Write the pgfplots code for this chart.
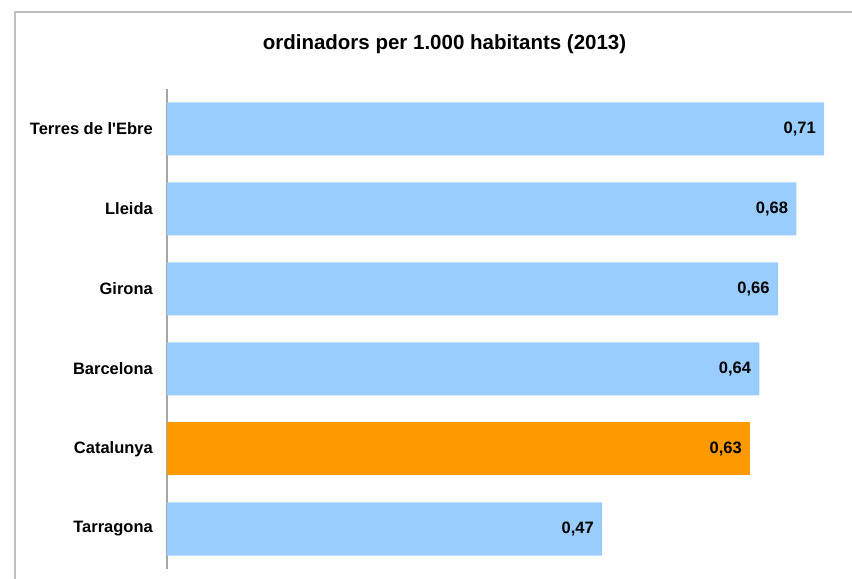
\documentclass[border=0pt]{standalone}
\usepackage{fontspec}
\setmainfont{Liberation Sans}[Ligatures=TeXOff]
\usepackage{pgfplots}
\pgfplotsset{compat=1.18}
\definecolor{barblue}{HTML}{99CCFF}
\definecolor{barorange}{HTML}{FF9900}
\definecolor{framegray}{HTML}{C0C0C0}
\definecolor{axisgray}{HTML}{A6A6A6}
\begin{document}
\begin{tikzpicture}
\useasboundingbox (0,0) rectangle (852bp,579bp);
\draw[color=framegray, line width=1.2bp] (15bp,-1bp) -- (15bp,567bp) -- (853bp,567bp);
\node[anchor=base, inner sep=0pt, font=\fontsize{20.5bp}{24bp}\selectfont\bfseries] at (444.5bp,529bp) {ordinadors per 1.000 habitants (2013)};
\begin{axis}[
  at={(167bp,10bp)}, anchor=south west,
  scale only axis, width=684.8bp, height=480bp,
  xbar, bar width=53bp, bar shift=0pt,
  xmin=0, xmax=0.74, ymin=-0.5, ymax=5.5,
  axis x line=none, axis y line*=left,
  y axis line style={color=axisgray, line width=1.2bp},
  ytick={0,1,2,3,4,5},
  yticklabels={Tarragona,Catalunya,Barcelona,Girona,Lleida,Terres de l'Ebre},
  major tick length=0pt,
  yticklabel style={font=\fontsize{16.5bp}{18bp}\selectfont\bfseries, inner sep=0pt, xshift=-14bp},
  point meta=x,
  nodes near coords={\pgfmathprintnumber[use comma,fixed,fixed zerofill,precision=2,assume math mode=true]{\pgfplotspointmeta}},
  every node near coord/.append style={anchor=east, inner sep=0pt, xshift=-8bp, color=black, font=\fontsize{16.5bp}{18bp}\selectfont\bfseries},
  clip=false,
]
\addplot[fill=barblue, draw=none] coordinates {(0.47,0) (0.64,2) (0.66,3) (0.68,4) (0.71,5)};
\addplot[fill=barorange, draw=none] coordinates {(0.63,1)};
\end{axis}
\end{tikzpicture}
\end{document}
